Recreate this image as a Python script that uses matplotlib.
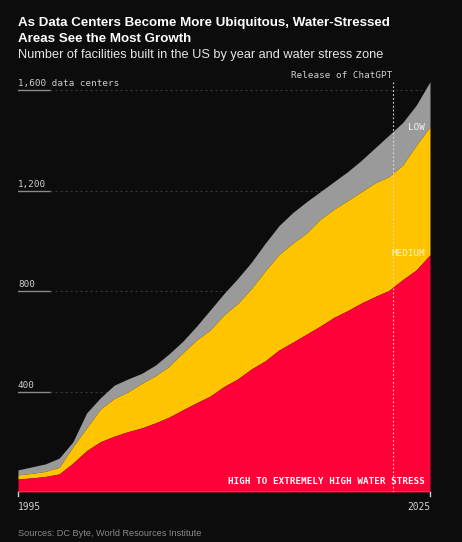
import matplotlib
matplotlib.use("Agg")
import matplotlib.pyplot as plt

W, H = 462, 542
BG = "#0c0c0c"

years = list(range(1995, 2026))
high = [52, 56, 62, 72, 115, 165, 200, 222, 240, 255, 275, 298, 327, 355, 382, 420,
        450, 490, 522, 565, 596, 628, 660, 695, 722, 752, 778, 802, 845, 884, 944]
high_medium = [68, 74, 82, 98, 180, 255, 330, 372, 398, 432, 462, 500, 554, 605, 645, 705,
               750, 810, 880, 945, 990, 1030, 1085, 1125, 1160, 1195, 1230, 1255, 1300, 1380, 1454]
total = [88, 100, 112, 135, 200, 315, 375, 425, 450, 472, 505, 550, 600, 660, 725, 790,
         850, 915, 990, 1060, 1112, 1155, 1195, 1235, 1275, 1320, 1370, 1420, 1470, 1540, 1633]
yticks = [400, 800, 1200, 1600]
ytick_labels = ["400", "800", "1,200", "1,600 data centers"]
chatgpt_year = 2022.3

RED = "#ff0038"
YELLOW = "#ffc400"
GREY = "#9a9a9a"
MONO = "DejaVu Sans Mono"
SANS = "Liberation Sans"


def fx(x):
    return x / W


def fy(y):
    return 1 - y / H


fig = plt.figure(figsize=(W / 100, H / 100), dpi=100, facecolor=BG)

# axes: x 1995..2025 -> px 18..430, y 0 at px 492, 0.25125 px per unit
ymax = 1700
ax = fig.add_axes([fx(18), fy(492), (430 - 18) / W, ymax * 0.25125 / H])
ax.set_facecolor(BG)
ax.set_xlim(1995, 2025)
ax.set_ylim(0, ymax)
for s in ax.spines.values():
    s.set_visible(False)
ax.set_xticks([])
ax.set_yticks([])

ax.fill_between(years, high_medium, total, color=GREY, lw=0, zorder=2)
ax.fill_between(years, high, high_medium, color=YELLOW, lw=0, zorder=2)
ax.fill_between(years, 0, high, color=RED, lw=0, zorder=2)

# gridlines with short solid stubs under the labels
ytr = ax.get_yaxis_transform()
stub = 32 / 412
for v, lab in zip(yticks, ytick_labels):
    ax.plot([0, stub], [v, v], color="#8a8a8a", lw=1.0, transform=ytr, zorder=1)
    ax.plot([stub, 1], [v, v], color="#363636", lw=0.8, ls=(0, (2, 2.5)),
            transform=ytr, zorder=1)
    ax.text(0, v + 15, lab, transform=ytr, color="#d0d0d0", fontsize=6.7,
            family=MONO, ha="left", va="baseline")

# baseline and end ticks
ax.axhline(0, color="#cfcfcf", lw=1.0, zorder=3)
for xv in (1995, 2025):
    ax.plot([xv, xv], [0, -14], color="#cfcfcf", lw=1.0, clip_on=False, zorder=3)

# ChatGPT marker
ax.plot([chatgpt_year, chatgpt_year], [0, 1632], color="#f3d0d8", lw=0.8,
        ls=(0, (1.5, 2)), zorder=4)
fig.text(fx(392), fy(75), "Release of ChatGPT", color="#d0d0d0", fontsize=6.7,
         family=MONO, ha="right", va="center")

# layer labels
fig.text(fx(425), fy(127), "LOW", color="#f4f4f4", fontsize=6.7, family=MONO,
         ha="right", va="center")
fig.text(fx(425), fy(253), "MEDIUM", color="#fff2cc", fontsize=6.7, family=MONO,
         ha="right", va="center")
fig.text(fx(425), fy(482), "HIGH TO EXTREMELY HIGH WATER STRESS", color="white",
         fontsize=6.7, family=MONO, weight="bold", ha="right", va="center")

# x labels
fig.text(fx(18), fy(507), "1995", color="#d0d0d0", fontsize=6.9, family=MONO,
         ha="left", va="center")
fig.text(fx(430), fy(507), "2025", color="#d0d0d0", fontsize=6.9, family=MONO,
         ha="right", va="center")

# titles
fig.text(fx(18), fy(23), "As Data Centers Become More Ubiquitous, Water-Stressed",
         color="white", fontsize=9.6, family=SANS, weight="bold", ha="left", va="center")
fig.text(fx(18), fy(39), "Areas See the Most Growth",
         color="white", fontsize=9.6, family=SANS, weight="bold", ha="left", va="center")
fig.text(fx(18), fy(55), "Number of facilities built in the US by year and water stress zone",
         color="#e6e6e6", fontsize=9.15, family=SANS, ha="left", va="center")
fig.text(fx(18), fy(534), "Sources: DC Byte, World Resources Institute",
         color="#8a8a8a", fontsize=6.6, family=SANS, ha="left", va="center")

fig.savefig("out.png", dpi=100, facecolor=BG)
